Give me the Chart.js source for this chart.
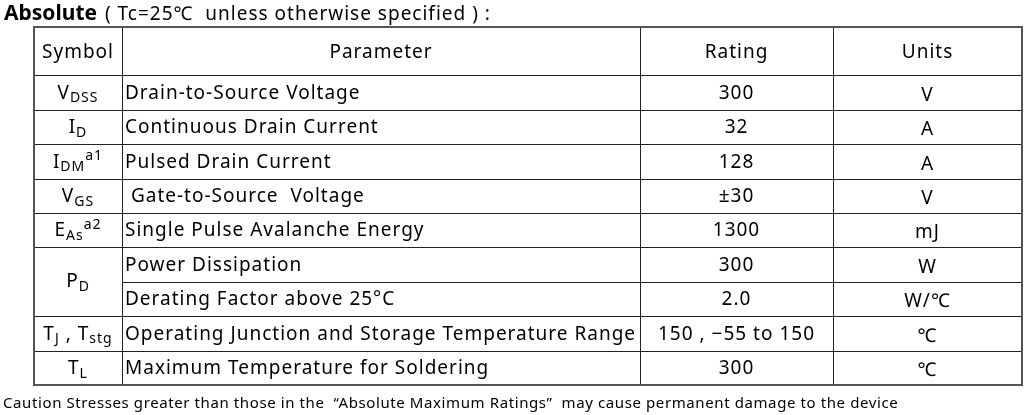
<!DOCTYPE html>
<html><head><meta charset="utf-8">
<script src="https://cdn.jsdelivr.net/npm/chart.js@4"></script>
<style>html,body{margin:0;padding:0;background:#fff}#wrap{width:1029px;height:415px}</style>
</head><body><div id="wrap"><canvas id="c"></canvas></div>
<script>
const headers = ["Symbol","Parameter","Rating","Units"];
const symbols = [["V","DSS",""],["I","D",""],["I","DM","a1"],["V","GS",""],["E","As","a2"],["P","D",""],null,["T","J"," , T|stg"],["T","L",""]];
const parameters = ["Drain-to-Source Voltage","Continuous Drain Current","Pulsed Drain Current"," Gate-to-Source  Voltage","Single Pulse Avalanche Energy","Power Dissipation","Derating Factor above 25°C","Operating Junction and Storage Temperature Range","Maximum Temperature for Soldering"];
const ratings = ["300","32","128","±30","1300","300","2.0","150 , \u221255 to 150","300"];
const units = ["V","A","A","V","mJ","W","W/℃","℃","℃"];
const colEdges = [34,122,640,833,1022];
const rowEdges = [27,75,110,144,179,213,247,282,316,351,385];
const FONT = '"Noto Sans", sans-serif';

const tablePlugin = {
  id:'table',
  afterDraw(chart){
    const ctx = chart.ctx, xs = chart.scales.x, ys = chart.scales.y;
    const X = v=>xs.getPixelForValue(v), Y = v=>ys.getPixelForValue(v);
    ctx.save();
    ctx.fillStyle='#000';ctx.textBaseline='alphabetic';
    ctx.font='bold 21px "Noto Sans", sans-serif';ctx.letterSpacing='0px';
    ctx.fillText('Absolute',X(4),Y(20));
    let w=ctx.measureText('Absolute').width;
    ctx.font='19px '+FONT;ctx.letterSpacing='1px';
    ctx.fillText(' ( Tc=25℃  unless otherwise specified ) :',X(4)+w+2,Y(20));
    ctx.strokeStyle='#222';ctx.lineWidth=1;
    const L=X(colEdges[0]),R=X(colEdges[4]),T=Y(rowEdges[0]),B=Y(rowEdges[10]);
    for(let i=1;i<rowEdges.length-1;i++){
      const y=Math.round(Y(rowEdges[i]))+0.5;
      ctx.beginPath();
      ctx.moveTo(i===7?X(colEdges[1]):L,y);ctx.lineTo(R,y);ctx.stroke();
    }
    for(let j=1;j<colEdges.length-1;j++){
      const x=Math.round(X(colEdges[j]))+0.5;
      ctx.beginPath();ctx.moveTo(x,T);ctx.lineTo(x,B);ctx.stroke();
    }
    ctx.strokeStyle='#555';ctx.lineWidth=2;
    ctx.strokeRect(L,T,R-L,B-T);
    ctx.textBaseline='middle';ctx.font='19px '+FONT;ctx.textAlign='center';
    headers.forEach((h,j)=>ctx.fillText(h,(X(colEdges[j])+X(colEdges[j+1]))/2,(T+Y(rowEdges[1]))/2+2));
    for(let i=0;i<9;i++){
      const cy=(Y(rowEdges[i+1])+Y(rowEdges[i+2]))/2+1;
      ctx.textAlign='left';ctx.font='19px '+FONT;
      ctx.fillText(parameters[i],X(colEdges[1])+3,cy);
      ctx.textAlign='center';
      ctx.fillText(ratings[i],(X(colEdges[2])+X(colEdges[3]))/2,cy);
      ctx.fillText(units[i],(X(colEdges[3])+X(colEdges[4]))/2,cy+2);
      const s=symbols[i]; if(!s) continue;
      let sy=cy; if(i===5) sy=Y(rowEdges[7]);
      const parts=[[s[0],'19px',0]];
      parts.push([s[1],'14px',5]);
      if(s[2]){
        if(s[2].includes('|')){const [a,b]=s[2].split('|');parts.push([a,'19px',0]);parts.push([b,'14px',5]);}
        else parts.push([s[2],'14px',-6]);
      }
      let tot=0;parts.forEach(p=>{ctx.font=p[1]+' '+FONT;tot+=ctx.measureText(p[0]).width;});
      let x=(X(colEdges[0])+X(colEdges[1]))/2-tot/2;ctx.textAlign='left';
      parts.forEach(p=>{ctx.font=p[1]+' '+FONT;ctx.fillText(p[0],x,sy+p[2]);x+=ctx.measureText(p[0]).width;});
    }
    ctx.textAlign='left';ctx.textBaseline='alphabetic';ctx.font='15px '+FONT;ctx.letterSpacing='0.6px';
    ctx.fillText('Caution Stresses greater than those in the  \u201CAbsolute Maximum Ratings\u201D  may cause permanent damage to the device',X(3),Y(408));
    ctx.restore();
  }
};
new Chart(document.getElementById('c'),{
  type:'scatter',
  data:{datasets:[{data:[],pointRadius:0}]},
  options:{responsive:true,maintainAspectRatio:false,animation:false,
    layout:{padding:0},
    plugins:{legend:{display:false},tooltip:{enabled:false}},
    scales:{x:{type:'linear',min:0,max:1029,display:false},y:{type:'linear',min:0,max:415,reverse:true,display:false}}},
  plugins:[tablePlugin]
});
</script></body></html>
